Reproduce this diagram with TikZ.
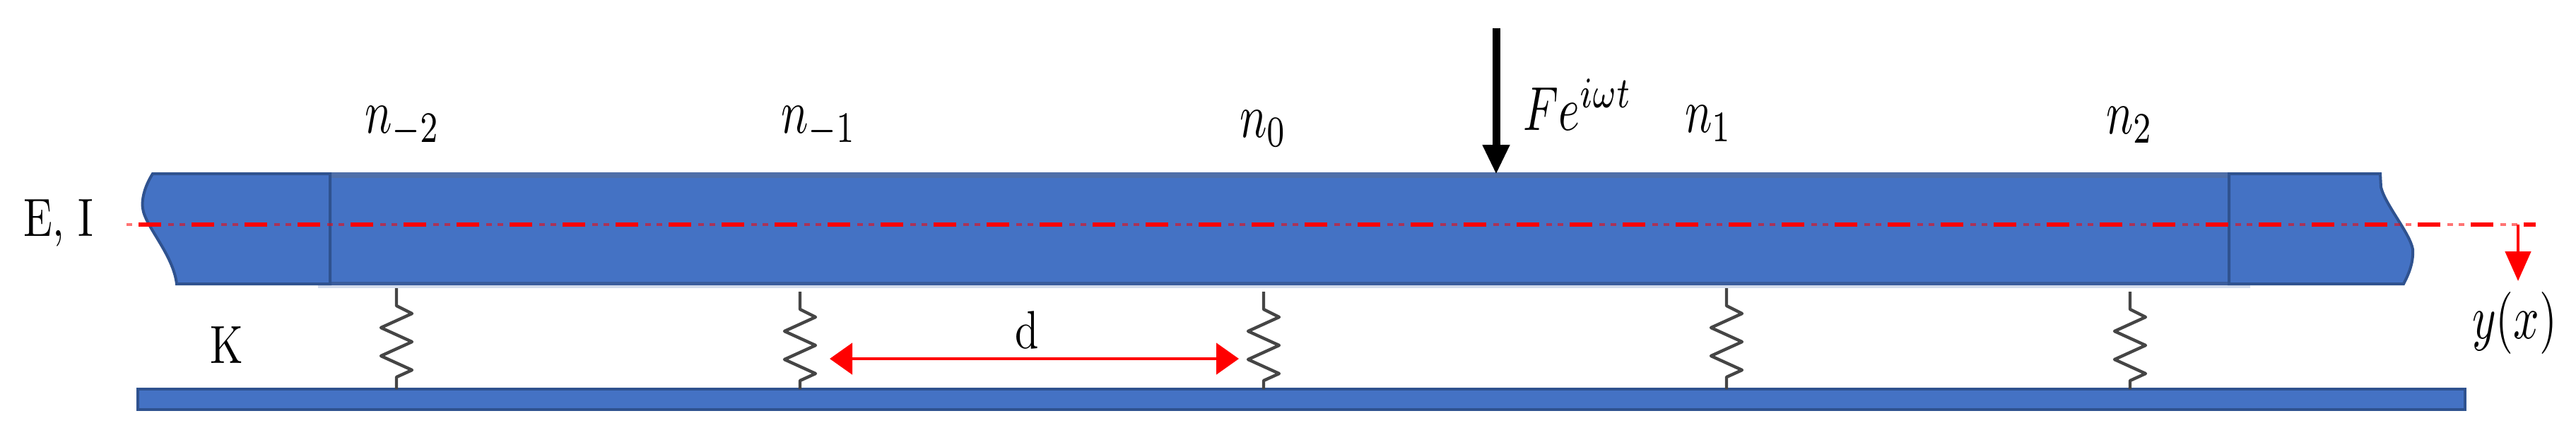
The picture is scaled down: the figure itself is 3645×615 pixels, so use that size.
\documentclass[tikz,border=0pt]{standalone}
\usetikzlibrary{arrows.meta}
\definecolor{beamfill}{HTML}{4472C4}
\definecolor{beamedge}{HTML}{2F528F}
\definecolor{beamtop}{HTML}{4F6FA9}
\definecolor{beambot}{HTML}{3A5C9C}
\definecolor{strip}{HTML}{D3DCEC}
\definecolor{springc}{HTML}{454545}
\tikzset{
  x=0.25pt,y=-0.25pt,
  capend/.style={fill=beamfill,draw=beamedge,line width=1pt,line join=miter},
  springline/.style={draw=springc,line width=1.1pt,line join=round},
  lab/.style={inner sep=0pt,outer sep=0pt,xscale=1.6,yscale=2.2,transform shape},
  txt/.style={inner sep=0pt,outer sep=0pt,xscale=1.5,yscale=1.9,transform shape},
  redarrow/.style={draw=red,line width=1.2pt},
}
\newcommand{\springpath}[2]{%
  \draw[springline] (#1) -- ++(0,#2) -- ++(22,11) -- ++(-44,20) -- ++(44,20) -- ++(-44,20) -- ++(44,20) -- ++(-22,10) -- (#1 |- ground.north);}
\begin{document}
\begin{tikzpicture}
\useasboundingbox (0,0) rectangle (3645,615);
\fill[white] (0,0) rectangle (3645,615);
% strip under beam
\fill[strip] (450,402) rectangle (3184,408);
% beam
\fill[beamfill] (467,244) rectangle (3154,403);
\fill[beamtop] (467,244) rectangle (3154,252);
\fill[beambot] (467,399) rectangle (3154,404);
% end caps
\draw[capend] (467,246) -- (216,246) .. controls (206,262) and (200,280) .. (202,295) .. controls (205,320) and (245,360) .. (250,402) -- (467,402) -- cycle;
\draw[capend] (3154,246) -- (3368,246) -- (3369,265) .. controls (3375,290) and (3410,330) .. (3414,353) .. controls (3415,370) and (3410,385) .. (3401,402) -- (3154,402) -- cycle;
% ground
\node[draw=beamedge,fill=beamfill,line width=1pt,inner sep=0pt,outer sep=0pt,minimum width=823.25pt,minimum height=7.25pt] (ground) at (1841.5,565.5) {};
% centre line
\coordinate (cl) at (179,318);
\coordinate (cr) at (3588,318);
\draw[red,line width=1.3pt,dash pattern=on 8pt off 10.75pt,dash phase=14.5pt] (cl) -- (cr);
\draw[red,opacity=.55,line width=1.1pt,dash pattern=on 2pt off 12.75pt on 2pt off 2pt] (cl) -- (cr);
% springs
\coordinate (s1) at (561,408);
\coordinate (s2) at (1132,413);
\coordinate (s3) at (1788,413);
\coordinate (s4) at (2443,408);
\coordinate (s5) at (3014,413);
\springpath{s1}{25}
\springpath{s2}{25}
\springpath{s3}{25}
\springpath{s4}{25}
\springpath{s5}{25}
% labels
\node[lab] (nm2) at (570,180) {$n_{-2}$};
\node[lab] (nm1) at (1159,180) {$n_{-1}$};
\node[lab] (n0) at (1788,182) {$n_{0}$};
\node[lab] (n1) at (2418,175) {$n_{1}$};
\node[lab] (n2) at (3014,177) {$n_{2}$};
\node[lab] (force) at (2233,148) {$Fe^{i\omega t}$};
\node[lab] (yx) at (3558,457) {$y(x)$};
\node[txt] (ei) at (83,316) {E, I};
\node[txt] (k) at (321,489) {K};
\node[txt] (d) at (1453,468) {d};
% force arrow
\coordinate (ftop) at (2117,40);
\coordinate (ftip) at (2117,247);
\draw[line width=2.75pt,-{Triangle[length=10.5pt,width=9pt]}] (ftop) -- (ftip);
% y arrow
\coordinate (ya) at (3563,318);
\coordinate (yb) at (3563,398);
\draw[redarrow,-{Triangle[length=10.5pt,width=9pt]}] (ya) -- (yb);
% d arrow
\coordinate (da) at (1174,508);
\coordinate (db) at (1753,508);
\draw[redarrow,{Triangle[length=8pt,width=11pt]}-{Triangle[length=8pt,width=11pt]}] (da) -- (db);
\end{tikzpicture}
\end{document}
